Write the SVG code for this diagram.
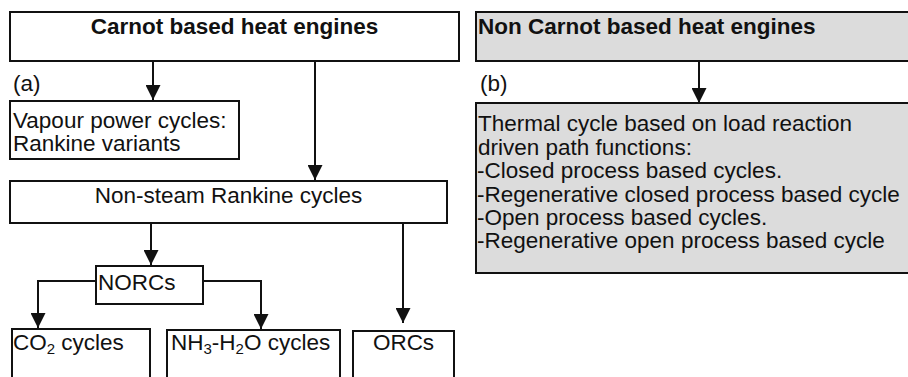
<svg xmlns="http://www.w3.org/2000/svg" width="908" height="377" viewBox="0 0 908 377">
<style>
.box{fill:#fff;stroke:#111;stroke-width:2}
.grey{fill:#dcdcdc;stroke:#111;stroke-width:2}
.t{font-family:"Liberation Sans",Arial,sans-serif;font-size:22.5px;fill:#111}
.b{font-weight:bold}
.c{text-anchor:middle}
.sub{font-size:15px}
.conn{fill:none;stroke:#111;stroke-width:2}
</style>
<defs>
<marker id="ah" markerUnits="userSpaceOnUse" markerWidth="15" markerHeight="15" viewBox="0 0 15 15" refX="15" refY="7.5" orient="auto">
<path d="M0,0 L15,7.5 L0,15 z" fill="#111"/>
</marker>
</defs>
<rect width="908" height="377" fill="#fff"/>
<g id="connectors">
<line class="conn" x1="153" y1="62" x2="153" y2="100" marker-end="url(#ah)"/>
<line class="conn" x1="315" y1="62" x2="315" y2="180" marker-end="url(#ah)"/>
<line class="conn" x1="699" y1="62" x2="699" y2="103" marker-end="url(#ah)"/>
<line class="conn" x1="151" y1="223" x2="151" y2="265" marker-end="url(#ah)"/>
<path class="conn" d="M96,281 H38 V328" marker-end="url(#ah)"/>
<path class="conn" d="M203,281 H261 V329" marker-end="url(#ah)"/>
<line class="conn" x1="403" y1="223" x2="403" y2="323" marker-end="url(#ah)"/>
</g>
<g id="carnot">
<rect class="box" x="10" y="12" width="449" height="49"/>
<text class="t b c" x="234.5" y="34">Carnot based heat engines</text>
</g>
<g id="label-a"><text class="t" x="13" y="91">(a)</text></g>
<g id="vapour">
<rect class="box" x="10" y="101" width="229" height="58"/>
<text class="t" x="13" y="128">Vapour power cycles:</text>
<text class="t" x="13" y="151">Rankine variants</text>
</g>
<g id="nonsteam">
<rect class="box" x="10" y="181" width="437" height="42"/>
<text class="t c" x="228.5" y="203">Non-steam Rankine cycles</text>
</g>
<g id="norcs">
<rect class="box" x="96" y="266" width="107" height="38"/>
<text class="t" x="98" y="290">NORCs</text>
</g>
<g id="co2">
<rect class="box" x="12" y="329" width="138" height="60"/>
<text class="t" x="13" y="350">CO<tspan class="sub" dy="4">2</tspan><tspan dy="-4"> cycles</tspan></text>
</g>
<g id="nh3">
<rect class="box" x="167" y="330" width="173" height="60"/>
<text class="t" x="171" y="350">NH<tspan class="sub" dy="4">3</tspan><tspan dy="-4">-H</tspan><tspan class="sub" dy="4">2</tspan><tspan dy="-4">O cycles</tspan></text>
</g>
<g id="orcs">
<rect class="box" x="353" y="331" width="101" height="60"/>
<text class="t c" x="403.5" y="350">ORCs</text>
</g>
<g id="noncarnot">
<rect class="grey" x="476" y="12" width="440" height="49"/>
<text class="t b" x="478" y="34">Non Carnot based heat engines</text>
</g>
<g id="label-b"><text class="t" x="480" y="91">(b)</text></g>
<g id="thermal">
<rect class="grey" x="476" y="103" width="440" height="170"/>
<text class="t" x="478" y="131">Thermal cycle based on load reaction</text>
<text class="t" x="478" y="155">driven path functions:</text>
<text class="t" x="477" y="178">-Closed process based cycles.</text>
<text class="t" x="477" y="202">-Regenerative closed process based cycle</text>
<text class="t" x="477" y="225">-Open process based cycles.</text>
<text class="t" x="477" y="248">-Regenerative open process based cycle</text>
</g>
</svg>
